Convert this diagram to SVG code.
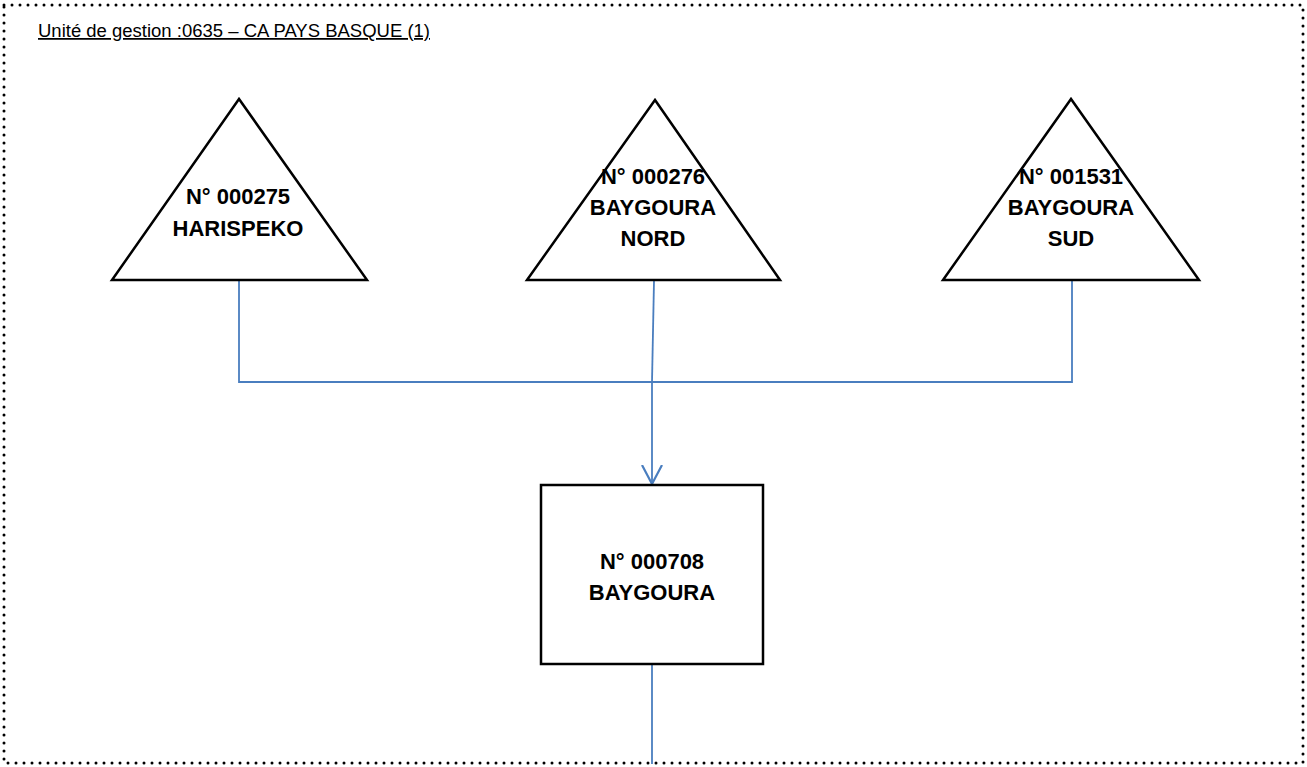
<svg xmlns="http://www.w3.org/2000/svg" width="1307" height="767" viewBox="0 0 1307 767">
<defs>
<style>
.frame{fill:none;stroke:#000;stroke-width:3;stroke-dasharray:0 8;stroke-linecap:round}
.shape{fill:#fff;stroke:#000;stroke-width:2.5}
.conn{fill:none;stroke:#4a7ebf;stroke-width:1.8}
.lbl{font-family:"Liberation Sans",Arial,sans-serif;font-weight:bold;font-size:22px;fill:#000;text-anchor:middle}
.title{font-family:"Liberation Sans",Arial,sans-serif;font-size:17.5px;fill:#000;text-decoration:underline}
</style>
<marker id="arr" viewBox="0 0 20 22" refX="19" refY="11" markerWidth="20" markerHeight="22" markerUnits="userSpaceOnUse" orient="auto">
<path d="M0,1 L19,11 L0,21" fill="none" stroke="#4a7ebf" stroke-width="2.2"/>
</marker>
</defs>
<rect width="1307" height="767" fill="#fff"/>
<rect class="frame" x="4" y="5" width="1299" height="758"/>
<text class="title" x="38" y="37" textLength="392" lengthAdjust="spacingAndGlyphs">Unité de gestion :0635 – CA PAYS BASQUE (1)</text>
<g id="connectors">
<path class="conn" d="M239,281 V382 H1072 V281"/>
<path class="conn" d="M654,281 L652,382"/>
<path class="conn" d="M652,382 V484" marker-end="url(#arr)"/>
<path class="conn" d="M652,664 V764"/>
</g>
<g id="n000275">
<polygon class="shape" points="239,99 112,280 367,280"/>
<text class="lbl" x="238" y="204">N° 000275</text>
<text class="lbl" x="238" y="236">HARISPEKO</text>
</g>
<g id="n000276">
<polygon class="shape" points="655,100 527,280 780,280"/>
<text class="lbl" x="653" y="184">N° 000276</text>
<text class="lbl" x="653" y="215">BAYGOURA</text>
<text class="lbl" x="653" y="246">NORD</text>
</g>
<g id="n001531">
<polygon class="shape" points="1071,99 943,280 1199,280"/>
<text class="lbl" x="1071" y="184">N° 001531</text>
<text class="lbl" x="1071" y="215">BAYGOURA</text>
<text class="lbl" x="1071" y="246">SUD</text>
</g>
<g id="n000708">
<rect class="shape" x="541" y="485" width="222" height="179"/>
<text class="lbl" x="652" y="569">N° 000708</text>
<text class="lbl" x="652" y="600">BAYGOURA</text>
</g>
</svg>
